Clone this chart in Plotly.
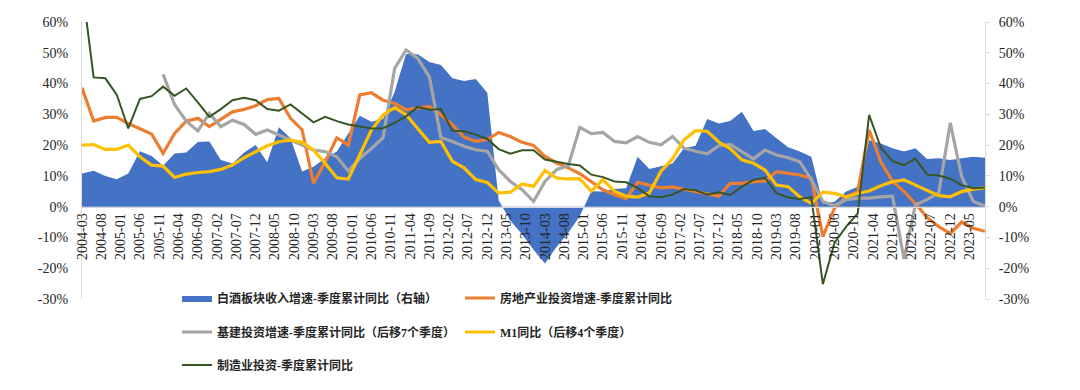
import plotly.graph_objects as go

quarters = [
    "2004-03", "2004-06", "2004-09", "2004-12", "2005-03", "2005-06", "2005-09", "2005-12",
    "2006-03", "2006-06", "2006-09", "2006-12", "2007-03", "2007-06", "2007-09", "2007-12",
    "2008-03", "2008-06", "2008-09", "2008-12", "2009-03", "2009-06", "2009-09", "2009-12",
    "2010-03", "2010-06", "2010-09", "2010-12", "2011-03", "2011-06", "2011-09", "2011-12",
    "2012-03", "2012-06", "2012-09", "2012-12", "2013-03", "2013-06", "2013-09", "2013-12",
    "2014-03", "2014-06", "2014-09", "2014-12", "2015-03", "2015-06", "2015-09", "2015-12",
    "2016-03", "2016-06", "2016-09", "2016-12", "2017-03", "2017-06", "2017-09", "2017-12",
    "2018-03", "2018-06", "2018-09", "2018-12", "2019-03", "2019-06", "2019-09", "2019-12",
    "2020-03", "2020-06", "2020-09", "2020-12", "2021-03", "2021-06", "2021-09", "2021-12",
    "2022-03", "2022-06", "2022-09", "2022-12", "2023-03", "2023-06", "2023-09",
]

tick_labels = [
    "2004-03", "2004-08", "2005-01", "2005-06", "2005-11", "2006-04", "2006-09", "2007-02",
    "2007-07", "2007-12", "2008-05", "2008-10", "2009-03", "2009-08", "2010-01", "2010-06",
    "2010-11", "2011-04", "2011-09", "2012-02", "2012-07", "2012-12", "2013-05", "2013-10",
    "2014-03", "2014-08", "2015-01", "2015-06", "2015-11", "2016-04", "2016-09", "2017-02",
    "2017-07", "2017-12", "2018-05", "2018-10", "2019-03", "2019-08", "2020-01", "2020-06",
    "2020-11", "2021-04", "2021-09", "2022-02", "2022-07", "2022-12", "2023-05",
]

# 白酒板块收入增速-季度累计同比（右轴）
liquor = [
    10.8, 11.7, 10.0, 8.9, 10.8, 18.0, 16.5, 13.3, 17.3, 17.6, 21.0, 21.2, 15.2, 14.0, 17.6, 20.0,
    14.4, 25.8, 22.2, 11.4, 13.0, 15.7, 17.9, 23.8, 29.5, 27.6, 28.5, 37.3, 49.6, 49.5, 47.0, 46.0,
    41.7, 40.8, 41.5, 37.0, 2.0, -4.5, -9.0, -14.0, -18.5, -13.0, -8.5, -3.0, 5.0, 4.9, 5.7, 6.0,
    16.2, 12.2, 13.0, 14.0, 19.0, 19.8, 28.5, 27.0, 27.8, 30.8, 24.6, 25.2, 22.2, 19.3, 17.9, 16.2,
    1.0, 1.6, 4.9, 6.5, 21.6, 20.5, 19.0, 17.9, 19.0, 15.5, 15.7, 15.2, 15.7, 16.2, 15.9,
]

# 房地产业投资增速-季度累计同比
real_estate = [
    38.6, 27.8, 29.0, 29.0, 27.0, 25.2, 23.6, 17.3, 23.8, 27.8, 28.7, 26.0, 28.5, 30.8, 31.6, 32.8,
    34.8, 35.2, 28.7, 25.0, 7.6, 14.6, 22.4, 20.0, 36.3, 37.0, 34.6, 33.5, 31.5, 32.0, 32.6, 29.9,
    26.6, 22.6, 21.2, 21.8, 24.1, 22.8, 20.9, 19.9, 16.3, 14.2, 12.6, 10.7, 8.2, 5.5, 3.9, 2.6,
    7.9, 7.1, 6.1, 6.4, 5.7, 5.0, 4.2, 3.4, 7.6, 7.6, 8.1, 8.3, 11.4, 10.8, 10.3, 9.2,
    -9.7, -0.5, 3.2, 4.9, 24.9, 14.6, 8.3, 5.0, 1.0, -3.5, -6.5, -8.7, -5.0, -7.0, -8.0,
]

# 基建投资增速-季度累计同比（后移7个季度）
infrastructure = [
    None, None, None, None, None, None, None, 43.0, 33.2, 27.8, 24.6, 30.3, 26.0, 28.1, 26.7, 23.5,
    24.9, 23.3, 21.6, 20.0, 18.4, 17.9, 16.2, 11.6, 15.7, 18.9, 22.4, 44.9, 50.9, 48.2, 42.2, 22.5,
    21.2, 19.6, 18.5, 18.0, 12.0, 8.2, 5.5, 1.7, 8.2, 12.0, 13.4, 25.8, 23.7, 24.1, 21.2, 20.7,
    22.8, 20.9, 20.1, 22.8, 19.0, 18.0, 17.2, 19.8, 20.2, 17.9, 15.5, 18.4, 16.8, 15.9, 14.6, 8.8,
    1.7, 0.3, 2.3, 2.8, 2.8, 3.2, 3.4, -17.0, 0.6, 2.3, 4.5, 27.2, 9.8, 1.7, 0.2,
]

# M1同比（后移4个季度）
m1 = [
    20.0, 20.2, 18.6, 18.6, 20.0, 16.2, 13.5, 13.2, 9.5, 10.6, 11.1, 11.4, 12.1, 13.5, 15.9, 17.9,
    19.8, 21.1, 21.6, 20.9, 18.4, 14.1, 9.4, 9.0, 16.8, 24.9, 29.8, 32.2, 29.9, 25.5, 20.9, 21.2,
    14.7, 12.6, 8.8, 7.9, 4.4, 4.7, 7.4, 6.6, 11.8, 9.3, 9.0, 9.1, 5.0, 8.8, 5.0, 3.4,
    3.1, 4.4, 11.5, 15.5, 21.7, 24.7, 24.5, 21.0, 18.9, 15.2, 14.1, 11.9, 7.0, 6.5, 3.2, 1.1,
    4.7, 4.3, 3.2, 4.3, 5.1, 6.8, 8.1, 8.7, 7.0, 5.4, 3.6, 3.2, 4.9, 5.7, 6.2,
]

# 制造业投资-季度累计同比
manufacturing = [
    72.0, 42.0, 41.7, 36.3, 25.4, 35.0, 35.9, 39.0, 36.0, 38.4, 33.9, 29.2, 31.7, 34.6, 35.4, 34.6,
    31.7, 31.2, 33.2, 30.3, 27.4, 29.2, 27.8, 26.7, 26.0, 25.4, 25.5, 27.2, 29.3, 32.4, 31.5, 31.7,
    24.7, 24.5, 23.4, 22.0, 18.7, 17.2, 18.3, 18.3, 15.3, 14.5, 13.9, 13.4, 10.4, 9.6, 8.2, 7.9,
    6.1, 3.4, 3.1, 3.9, 5.7, 5.3, 3.9, 4.7, 3.8, 6.5, 8.7, 9.4, 4.4, 3.0, 2.5, 3.1,
    -25.2, -11.7, -6.5, -2.2, 29.8, 19.2, 14.8, 13.5, 15.6, 10.4, 10.1, 9.1, 7.0, 6.0, 6.2,
]

y_ticks = [-30, -20, -10, 0, 10, 20, 30, 40, 50, 60]
y_ticktext = ["-30%", "-20%", "-10%", "0%", "10%", "20%", "30%", "40%", "50%", "60%"]

names = [
    "白酒板块收入增速-季度累计同比（右轴）",
    "房地产业投资增速-季度累计同比",
    "基建投资增速-季度累计同比（后移7个季度）",
    "M1同比（后移4个季度）",
    "制造业投资-季度累计同比",
]
colors = ["#4472C4", "#ED7D31", "#A5A5A5", "#FFC000", "#375623"]

fig = go.Figure()
fig.add_trace(go.Scatter(
    x=quarters, y=liquor, name=names[0], mode="lines", fill="tozeroy",
    fillcolor=colors[0], line=dict(width=0, color=colors[0]), yaxis="y", legend="legend",
))
line_series = [real_estate, infrastructure, m1, manufacturing]
widths = [3.2, 3.2, 3.2, 2.0]
legends = ["legend2", "legend3", "legend4", "legend5"]
for i, s in enumerate(line_series):
    fig.add_trace(go.Scatter(
        x=quarters, y=s, name=names[i + 1], mode="lines",
        line=dict(width=widths[i], color=colors[i + 1]), yaxis="y2",
        legend=legends[i], connectgaps=False,
    ))

tick_font = dict(family="Liberation Serif, Times New Roman, serif", size=14, color="#262626")
leg_font = dict(family="Liberation Serif, Noto Sans CJK SC", size=12, color="#262626", weight="bold")

# page offset of the figure inside the browser page (default body margin)
OFF = 8
# plot-area box in page pixels
PL, PR, PT, PB = 82, 985, 22, 299
W, H = 1080 - OFF, 390 - OFF
L = PL - OFF
T = PT - OFF
R = W - (PR - OFF)
B = H - (PB - OFF)
pw = PR - PL
ph = PB - PT

def lx(px):
    return (px - PL) / pw

def ly(py):
    return (PB - py) / ph

def leg(px, py):
    return dict(x=lx(px), y=ly(py), xanchor="left", yanchor="middle", orientation="h",
                bgcolor="rgba(0,0,0,0)", font=leg_font, itemwidth=30)

fig.update_layout(
    width=W, height=H,
    margin=dict(l=L, r=R, t=T, b=B, autoexpand=False),
    plot_bgcolor="white", paper_bgcolor="white",
    showlegend=True,
    xaxis=dict(
        type="date", range=["2004-03-01", "2023-09-01"],
        tickvals=tick_labels, ticktext=tick_labels, tickangle=-90,
        tickfont=tick_font, showgrid=False, zeroline=False,
        showline=True, linecolor="#D9D9D9", linewidth=1,
        anchor="free", position=1 / 3, ticks="",
    ),
    yaxis=dict(
        range=[-30, 60], tickvals=y_ticks, ticktext=y_ticktext, side="right",
        tickfont=tick_font, showgrid=False, zeroline=False,
        showline=True, linecolor="#D9D9D9", linewidth=1,
        ticks="outside", ticklen=4, tickcolor="#D9D9D9", ticklabelstandoff=6,
    ),
    yaxis2=dict(
        range=[-30, 60], tickvals=y_ticks, ticktext=y_ticktext, side="left",
        overlaying="y", tickfont=tick_font, showgrid=False, zeroline=False,
        showline=True, linecolor="#D9D9D9", linewidth=1, ticks="", ticklabelstandoff=10,
    ),
    legend=leg(177, 298),
    legend2=leg(460, 298),
    legend3=leg(177, 332),
    legend4=leg(460, 332),
    legend5=leg(177, 365),
)

fig.write_html("out.html")
